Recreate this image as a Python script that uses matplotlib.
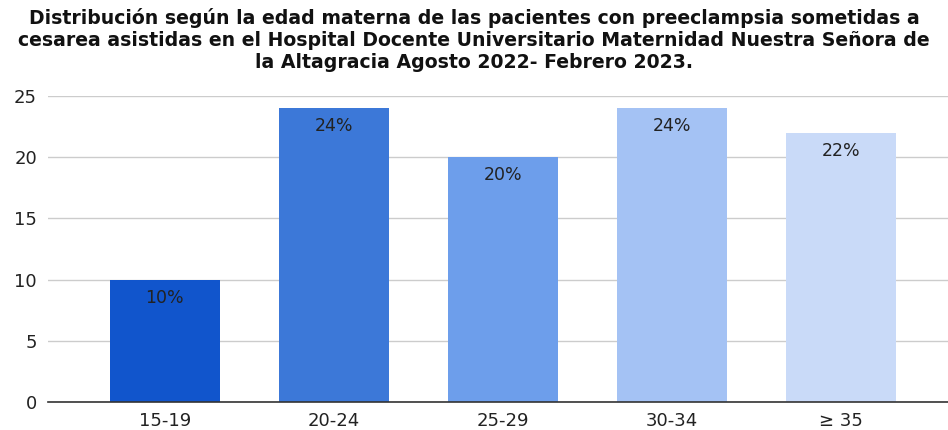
import matplotlib.pyplot as plt

plt.rcParams['font.family'] = ['DejaVu Sans']

# Data
categories = ["15-19", "20-24", "25-29", "30-34", "≥ 35"]
values = [10, 24, 20, 24, 22]
labels = ["10%", "24%", "20%", "24%", "22%"]
colors = ["#1155CC", "#3C78D8", "#6D9EEB", "#A4C2F4", "#C9DAF8"]

title = ("Distribución según la edad materna de las pacientes con preeclampsia sometidas a\n"
         "cesarea asistidas en el Hospital Docente Universitario Maternidad Nuestra Señora de\n"
         "la Altagracia Agosto 2022- Febrero 2023.")

fig = plt.figure(figsize=(9.48, 4.30), dpi=100)
ax = fig.add_axes([48 / 948, 28 / 430, 900 / 948, 306 / 430])

x = list(range(len(categories)))
bars = ax.bar(x, values, width=0.65, color=colors, zorder=2)

for b, lab in zip(bars, labels):
    ax.annotate(lab, (b.get_x() + b.get_width() / 2, b.get_height()),
                xytext=(0, -18), textcoords="offset pixels",
                ha="center", va="center", fontsize=12.5, color="#222222")

ax.set_xlim(-0.69, 4.63)
ax.set_ylim(0, 25)
ax.set_yticks([0, 5, 10, 15, 20, 25])
ax.set_xticks(x)
ax.set_xticklabels(categories)
ax.tick_params(axis="both", length=0, labelsize=13, colors="#222222")
ax.tick_params(axis="y", pad=8)
ax.tick_params(axis="x", pad=7)
ax.grid(axis="y", color="#cccccc", linewidth=1, zorder=0)
for s in ["top", "right", "left"]:
    ax.spines[s].set_visible(False)
ax.spines["bottom"].set_color("#333333")
ax.spines["bottom"].set_linewidth(1.2)
ax.spines["bottom"].set_zorder(3)

fig.text(0.5, 1 - 40 / 430, title, ha="center", va="center", fontsize=13.6,
         fontweight="bold", linespacing=1.2, color="#111111")

fig.savefig("out.png", dpi=100)
